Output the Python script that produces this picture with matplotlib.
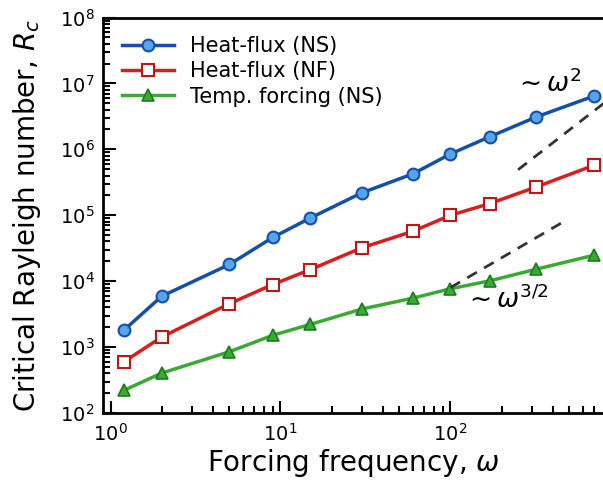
import numpy as np
import matplotlib
matplotlib.use("Agg")
import matplotlib.pyplot as plt
from matplotlib.ticker import LogLocator, NullFormatter

omega = [1.2, 2, 5, 9, 15, 30, 60, 100, 170, 320, 700]
hf_ns = [1810, 5900, 17900, 46000, 91000, 218000, 424000, 850000, 1.55e6, 3.1e6, 6.45e6]
hf_nf = [600, 1420, 4550, 8900, 15000, 32000, 57000, 100000, 150000, 269000, 573000]
tf_ns = [221, 403, 850, 1510, 2210, 3770, 5520, 7670, 10100, 15200, 24800]

guide2_x = [250, 800]
guide2_y0 = 4.9e5
guide15_x = [100, 450]
guide15_y0 = 8.0e3

labels = ["Heat-flux (NS)", "Heat-flux (NF)", "Temp. forcing (NS)"]

fig = plt.figure(figsize=(6.03, 4.86), dpi=100)
ax = fig.add_axes([103/603, 1-413/486, 1-103/603, (413-17.5)/486])

ax.plot(omega, hf_ns, '-o', color='#1450aa', lw=2.5, ms=8.5, mfc='#55a5e8', mec='#1450aa', mew=1.5, label=labels[0])
ax.plot(omega, hf_nf, '-s', color='#d62020', lw=2.5, ms=8.5, mfc='white', mec='#c01515', mew=1.5, label=labels[1])
ax.plot(omega, tf_ns, '-^', color='#3aaa35', lw=2.5, ms=9, mfc='#3aaa35', mec='#1f7a1f', mew=1.2, label=labels[2])

gx = np.array(guide2_x, dtype=float)
ax.plot(gx, guide2_y0*(gx/gx[0])**2, '--', color='#333333', lw=2, dashes=(4, 3))
gx = np.array(guide15_x, dtype=float)
ax.plot(gx, guide15_y0*(gx/gx[0])**1.5, '--', color='#333333', lw=2, dashes=(4, 3))

ax.text(372, 1.0e7, r'$\sim\omega^2$', fontsize=19, ha='center', va='center')
ax.text(213, 5.3e3, r'$\sim\omega^{3/2}$', fontsize=19, ha='center', va='center')

ax.set_xscale('log')
ax.set_yscale('log')
ax.set_xlim(0.903, 790)
ax.set_ylim(1e2, 1e8)
for axis in (ax.xaxis, ax.yaxis):
    axis.set_major_locator(LogLocator(base=10, numticks=20))
    axis.set_minor_locator(LogLocator(base=10, subs=np.arange(2, 10), numticks=100))
    axis.set_minor_formatter(NullFormatter())
ax.set_xlim(0.903, 790)
ax.set_ylim(1e2, 1e8)
ax.set_xlabel(r'Forcing frequency, $\omega$', fontsize=20, labelpad=2)
ax.set_ylabel(r'Critical Rayleigh number, $R_c$', fontsize=20, labelpad=12)
ax.spines['right'].set_visible(False)
for s in ['left', 'bottom', 'top']:
    ax.spines[s].set_linewidth(2)
ax.tick_params(which='both', direction='in', top=False, right=False, labelsize=14, width=1.5)
ax.tick_params(which='major', length=9)
ax.tick_params(which='minor', length=5)
ax.tick_params(axis='x', pad=7)
ax.tick_params(axis='y', pad=6)

ax.legend(loc='upper left', frameon=False, fontsize=15, handlelength=2.5, labelspacing=0.25)

fig.savefig('out.png', dpi=100)
